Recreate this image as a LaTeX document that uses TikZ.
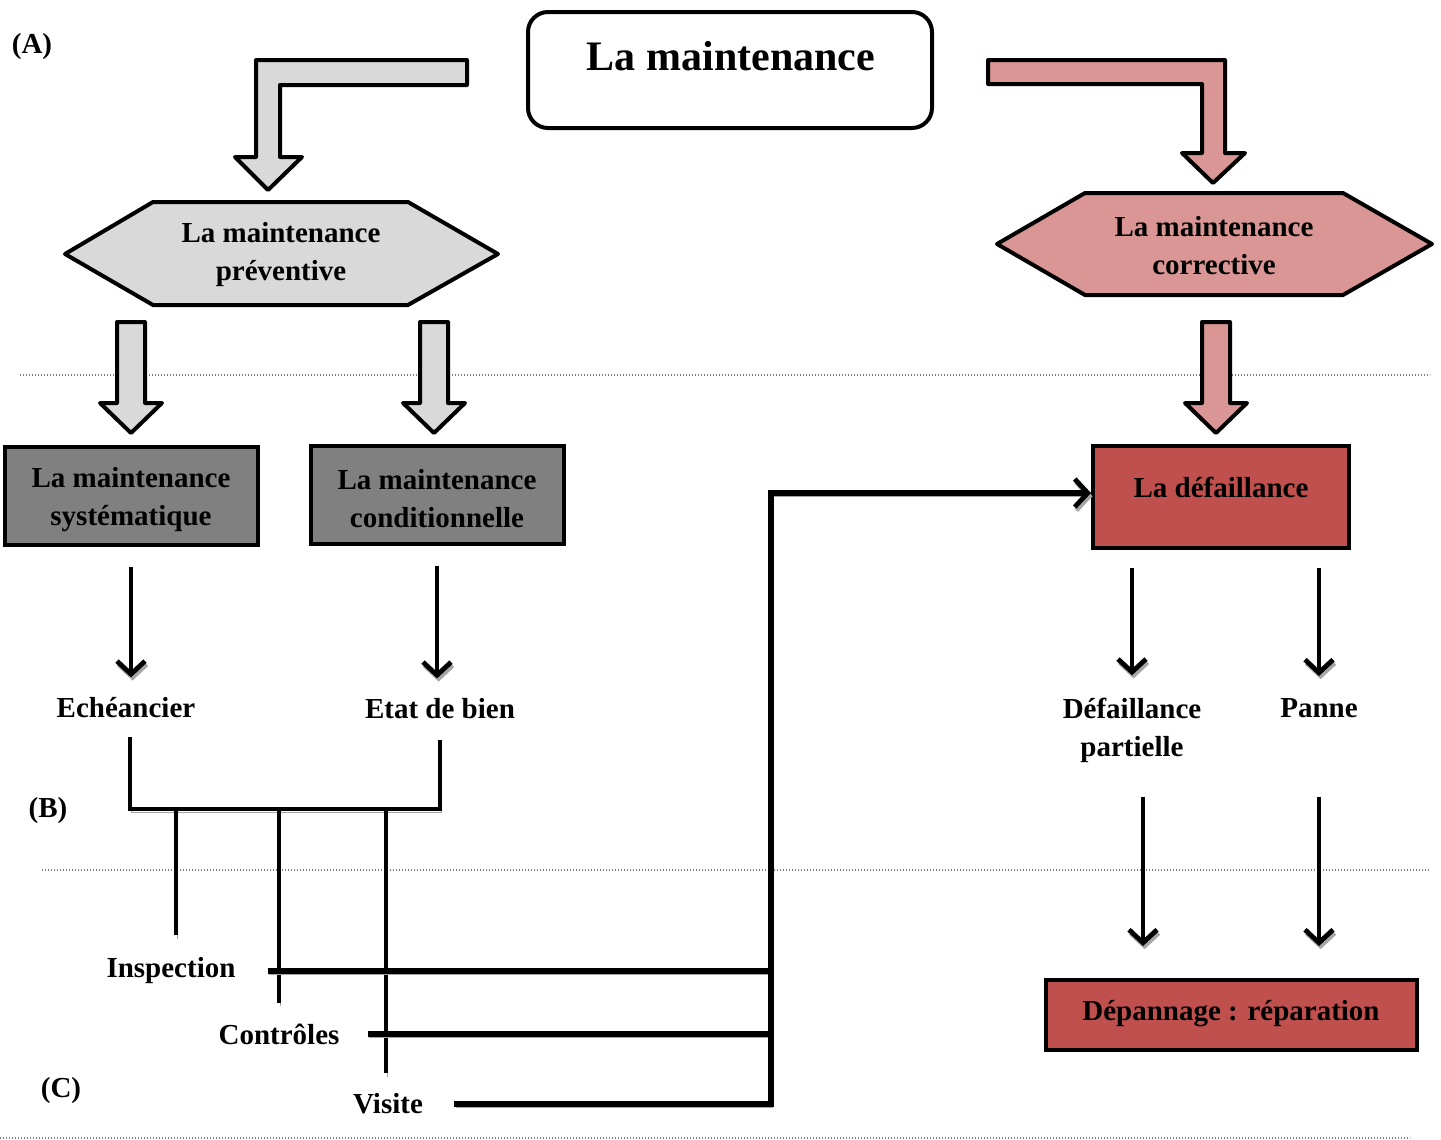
\documentclass[tikz,border=0pt]{standalone}
\usepackage{fontspec}
\setmainfont{Liberation Serif}
\usetikzlibrary{positioning, arrows.meta}
\usetikzlibrary{calc}

\definecolor{prevgray}{HTML}{D9D9D9}
\definecolor{corrpink}{HTML}{D99694}
\definecolor{boxgray}{HTML}{808080}
\definecolor{defred}{HTML}{C0504D}

\tikzset{
    lab/.style={font=\fontsize{14.5}{19}\selectfont\bfseries, align=center, inner sep=0pt, yshift=-1.5pt},
    titletxt/.style={font=\fontsize{21}{25}\selectfont\bfseries, inner sep=0pt},
    titlebox/.style={draw, line width=2pt, rounded corners=10pt, minimum width=202pt, minimum height=58pt},
    blockshape/.style={draw, line width=2pt, line join=round},
    graybox/.style={draw, line width=2pt, fill=boxgray, minimum width=126.5pt, minimum height=49pt},
    redbox/.style={draw, line width=2pt, fill=defred},
    sep/.style={gray, line width=0.6pt, dash pattern=on 0.6pt off 0.9pt},
    shadowed/.style={preaction={draw=gray!70, transform canvas={shift={(0.8pt,-1.6pt)}}}},
    barb/.style={-{Straight Barb[length=6.5pt, width=14pt, line width=2.4pt]}},
    thinarr/.style={barb, line width=2.3pt, shadowed},
    brk/.style={line width=2.4pt, shadowed},
    longline/.style={line width=2.8pt, shadowed}
}

\begin{document}
\begin{tikzpicture}[x=0.5pt, y=-0.5pt]
    \useasboundingbox (0,0) rectangle (1441,1140);

    % Draw the dotted separators
    \draw[sep] (20,375) -- (1430,375);
    \draw[sep] (42,870) -- (1430,870);
    \draw[sep] (0,1138) -- (1410,1138);

    % Draw the title
    \node[titlebox] (main) at (730,70) {};
    \node[titletxt] (maintxt) at (731,56) {La maintenance};

    % Draw the bent block arrows
    \draw[blockshape, fill=prevgray] (467,60) -- (256,60) -- (256,157) -- (235,157) -- (268,190)
        -- (302,157) -- (280,157) -- (280,85) -- (467,85) -- cycle;
    \draw[blockshape, fill=corrpink] (988,60) -- (1225,60) -- (1225,153) -- (1245,153) -- (1213,183)
        -- (1182,153) -- (1202,153) -- (1202,84) -- (988,84) -- cycle;

    % Draw the hexagons
    \draw[blockshape, fill=prevgray] (65,254) -- (153,202) -- (408,202) -- (498,254) -- (408,305) -- (153,305) -- cycle;
    \node[lab] (prev) at (281,252) {La maintenance\\préventive};
    \draw[blockshape, fill=corrpink] (997,244) -- (1085,193) -- (1343,193) -- (1432,244) -- (1343,295) -- (1085,295) -- cycle;
    \node[lab] (corr) at (1214,243) {La maintenance\\corrective};

    % Draw the straight block arrows
    \foreach \xc/\col in {131/prevgray, 434/prevgray, 1216/corrpink}
        \draw[blockshape, fill=\col] (\xc-14,322) -- (\xc+14,322) -- (\xc+14,403) -- (\xc+31,403)
            -- (\xc,433) -- (\xc-31,403) -- (\xc-14,403) -- cycle;

    % Draw the boxes
    \node[graybox] (sys) at (131,496) {};
    \node[lab] (systxt) at (131,497) {La maintenance\\systématique};
    \node[graybox] (cond) at (437,495) {};
    \node[lab] (condtxt) at (437,496) {La maintenance\\conditionnelle};
    \node[redbox, minimum width=128pt, minimum height=51pt] (def) at (1221,497) {};
    \node[lab] (deftxt) at (1221,484) {La défaillance};
    \node[redbox, minimum width=185.5pt, minimum height=35pt] (dep) at (1231,1015) {};
    \node[lab] (deptxt) at (1231,1011) {Dépannage : réparation};

    % Draw the labels
    \node[lab] (ech) at (126,705) {Echéancier};
    \node[lab] (etat) at (440,706) {Etat de bien};
    \node[lab] (part) at (1132,727) {Défaillance\\partielle};
    \node[lab] (panne) at (1319,705) {Panne};
    \node[lab] (insp) at (171,968) {Inspection};
    \node[lab] (contr) at (279,1031) {Contrôles};
    \node[lab] (vis) at (388,1101) {Visite};
    \node[lab] (A) at (32,44) {(A)};
    \node[lab] (B) at (48,808) {(B)};
    \node[lab] (C) at (61,1088) {(C)};

    % Draw the thin arrows
    \draw[thinarr, shorten <=10pt, shorten >=10pt] (sys.south) -- (sys.south |- ech.north);
    \draw[thinarr, shorten <=10pt, shorten >=10pt] (cond.south) -- (cond.south |- etat.north);
    \draw[thinarr, shorten <=9pt, shorten >=11pt] (part.north |- def.south) -- (part.north);
    \draw[thinarr, shorten <=9pt, shorten >=11pt] (panne.north |- def.south) -- (panne.north);
    \draw[thinarr, shorten <=17pt, shorten >=16pt] ([xshift=5.5pt]part.south) -- ([xshift=5.5pt]part.south |- dep.north);
    \draw[thinarr, shorten <=17pt, shorten >=16pt] (panne.south |- part.south) -- (panne.south |- dep.north);

    % Draw the bracket and its drops
    \coordinate (join) at (284,809);
    \draw[brk, shorten <=9pt, shorten >=10pt] ([xshift=2pt]ech.south) |- (join) -| (etat.south);
    \draw[brk, shorten >=11pt] ([xshift=2.5pt]insp.north |- join) -- ([xshift=2.5pt]insp.north);
    \draw[brk, shorten >=10pt] (contr.north |- join) -- (contr.north);
    \draw[brk, shorten >=10pt] ([xshift=-1pt]vis.north |- join) -- ([xshift=-1pt]vis.north);

    % Draw the lines to the failure box
    \coordinate (bend) at (771,493);
    \draw[longline, shorten <=16pt] (insp.east) -- (insp.east -| bend);
    \draw[longline, shorten <=14pt] (contr.east) -- (contr.east -| bend);
    \draw[longline, barb, shorten <=15.5pt] (vis.east) -| (bend) -- (def.west |- bend);
\end{tikzpicture}
\end{document}
